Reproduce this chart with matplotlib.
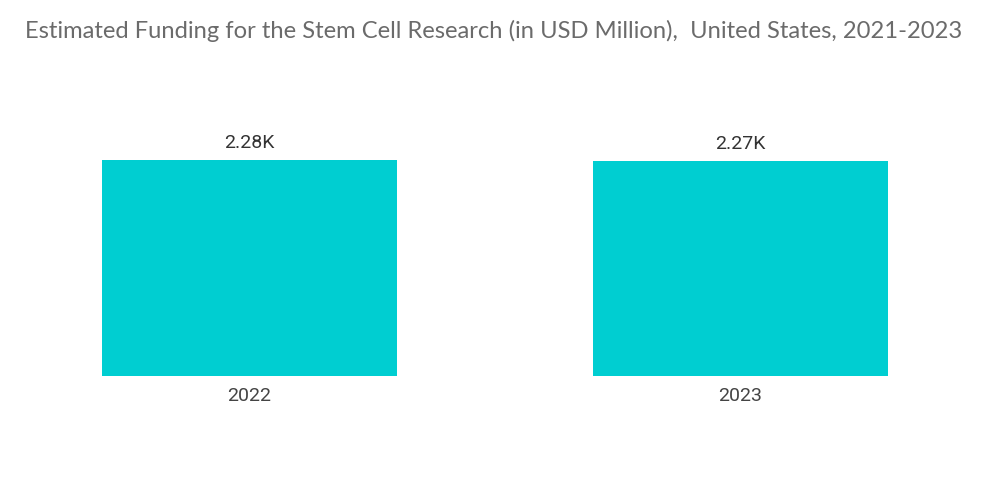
import matplotlib
matplotlib.use("Agg")
from matplotlib import pyplot as plt

years = ["2022", "2023"]
funding = [2280, 2270]
value_labels = ["2.28K", "2.27K"]

fig = plt.figure(figsize=(10, 5.04), dpi=100)
ax = fig.add_axes([0.004, 0.254, 0.982, 0.508])

bars = ax.bar(range(len(years)), funding, width=0.6, color="#00CED1")
ax.set_xlim(-0.5, len(years) - 0.5)
ax.set_ylim(0, max(funding) * 256 / 216)

for b, lab in zip(bars, value_labels):
    ax.annotate(lab, (b.get_x() + b.get_width() / 2, b.get_height()),
                xytext=(0, 6), textcoords="offset points", ha="center", va="bottom",
                fontsize=14, family="Roboto", color="#333333")

ax.set_xticks(range(len(years)))
ax.set_xticklabels(years, fontsize=14, family="Roboto", color="#444444")
ax.tick_params(axis="x", length=0, pad=8)
ax.set_yticks([])
for s in ax.spines.values():
    s.set_visible(False)

fig.text(0.025, 0.938, "Estimated Funding for the Stem Cell Research (in USD Million),  United States, 2021-2023",
         fontsize=17.1, family="Lato", color="#6b6b6b", ha="left", va="center")

fig.savefig("out.png", dpi=100)
